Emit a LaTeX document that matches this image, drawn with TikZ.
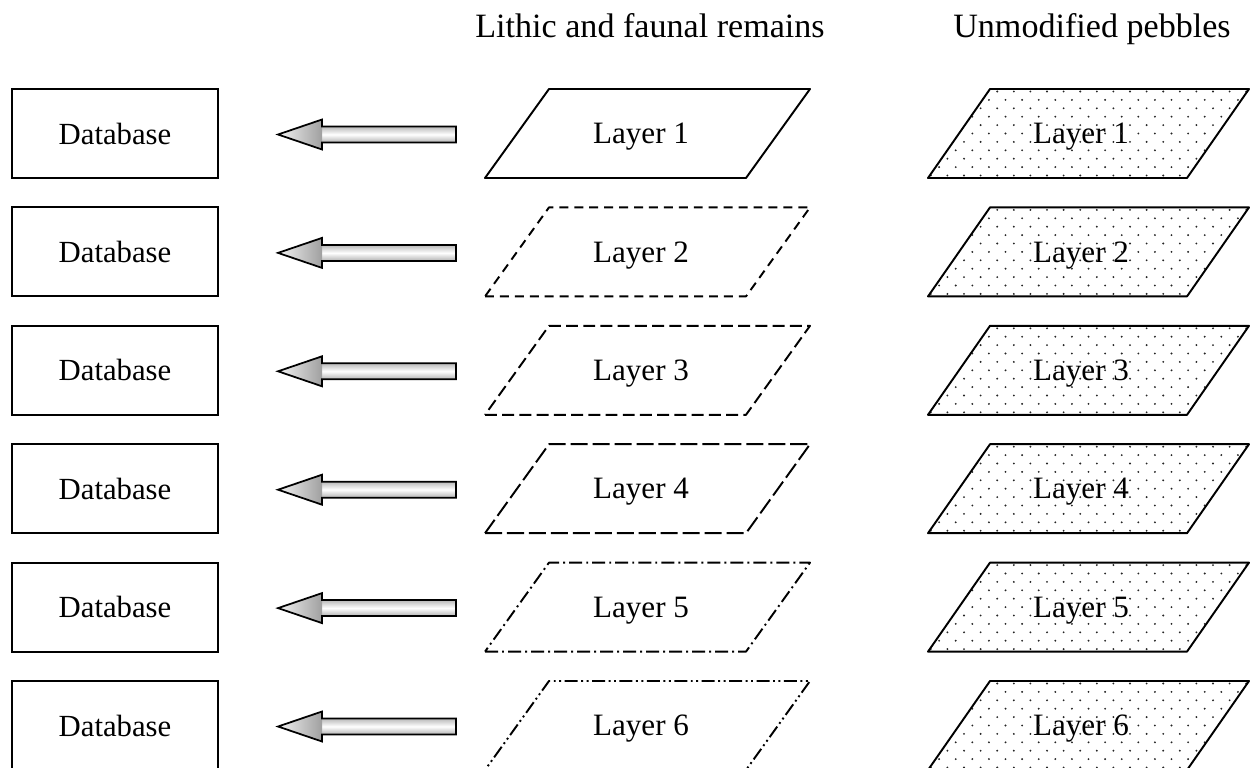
\documentclass[tikz,border=0pt]{standalone}
\usepackage{fontspec}
\setmainfont{Liberation Serif}
\usetikzlibrary{calc}

\begin{document}
\begin{tikzpicture}[x=0.02cm, y=-0.02cm,
	dbbox/.style={draw, line width=1.2pt, minimum width=4.12cm, minimum height=1.78cm, inner sep=0pt, text depth=0pt, font=\fontsize{17.5}{21}\selectfont},
	layertext/.style={inner sep=0pt, text depth=0pt, font=\fontsize{17.7}{21}\selectfont},
	layeredge/.style={line width=1.1pt, line join=round},
	titletext/.style={font=\fontsize{19.4}{23}\selectfont, anchor=base},
	finedashes/.style={dash pattern=on 5.1pt off 3.4pt},
	middashes/.style={dash pattern=on 6.8pt off 3pt},
	longdashes/.style={dash pattern=on 9.7pt off 2.8pt},
	dashdotline/.style={dash pattern=on 7.4pt off 2.3pt on 1.1pt off 2.3pt},
	dashdotdotline/.style={dash pattern=on 7.4pt off 2pt on 1.1pt off 2pt on 1.1pt off 2pt},
	pebbledots/.style={path picture={
		\foreach \r [evaluate=\r as \off using {mod(\r+10,2)*8.3}] in {-6,...,6}
			\foreach \c in {-11,...,11}
				\fill[black!85] ($(path picture bounding box.center)+(\c*16.6+\off,\r*8.4)$) circle (0.021cm);
	}},
	shaftfill/.style={top color=gray!55, bottom color=gray!60, middle color=white},
	headfill/.style={left color=gray!10, right color=gray!75}
	]
	\useasboundingbox (0,0) rectangle (1253,767);
	\clip (0,0) rectangle (1253,767);

	% Column titles
	\node[titletext] (lithtitle) at (650,38) {Lithic and faunal remains};
	\node[titletext] (pebtitle) at (1092,38) {Unmodified pebbles};

	% Rows: database <- layer (finds) | layer (pebbles)
	\foreach \i/\ls [evaluate=\i as \cy using {133.5+118.4*(\i-1)}] in
		{1/solid, 2/finedashes, 3/middashes, 4/longdashes, 5/dashdotline, 6/dashdotdotline} {
		\node[dbbox] (db\i) at (115,\cy) {Database};

		% parallelograms, slant 64 over 89
		\node[layertext] (lith\i) at (641,\cy) {Layer \i};
		\draw[layeredge, \ls] ($(lith\i)+(-156,44.5)$) -- ++(261,0) -- ++(64,-89) -- ++(-261,0) -- cycle;
		\node[layertext] (peb\i) at (1081,\cy) {Layer \i};
		\draw[layeredge, pebbledots] ($(peb\i)+(-153,44.5)$) -- ++(259,0) -- ++(62,-89) -- ++(-259,0) -- cycle;

		% block arrow pointing to the database
		\coordinate (tip\i) at ($(db\i.east)+(59,1)$);
		\begin{scope}[shift={(tip\i)}]
			\shade[shaftfill] (43,-8) rectangle (178,8);
			\shade[headfill] (0,0) -- (44,-15) -- (44,15) -- cycle;
			\draw[line width=1pt, line join=miter] (0,0) -- (44,-15) -- (44,-8) -- (178,-8)
				-- (178,8) -- (44,8) -- (44,15) -- cycle;
		\end{scope}
	}
\end{tikzpicture}
\end{document}
